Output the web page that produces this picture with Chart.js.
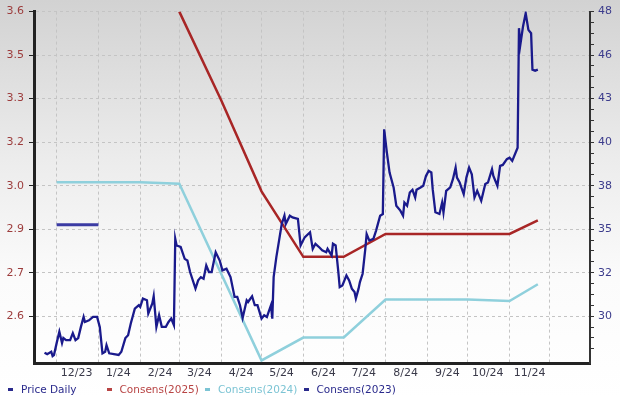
<!DOCTYPE html>
<html>
<head>
<meta charset="utf-8">
<title>Price and Consensus Chart</title>
<script src="https://cdn.jsdelivr.net/npm/chart.js@4.4.1/dist/chart.umd.min.js"></script>
<style>
  html, body { margin: 0; padding: 0; }
  body {
    width: 620px; height: 398px; overflow: hidden; position: relative;
    background: linear-gradient(to bottom, #d2d2d2 0%, #ececec 40%, #fbfbfb 70%, #ffffff 100%);
    font-family: 'DejaVu Sans', Verdana, sans-serif;
  }
  #chart { position: absolute; left: 0; top: 0; }
  #legend { position: absolute; left: 8px; top: 383px; display: flex; font-size: 10.5px; line-height: 13px; }
  #legend .item { width: 98.5px; display: flex; align-items: center; white-space: nowrap; }
  #legend .mark { width: 5px; height: 3px; margin-right: 8px; }
</style>
</head>
<body>
<canvas id="chart" width="620" height="398"></canvas>
<div id="legend"></div>
<script>
// series names (legend order)
const seriesNames = ['Price Daily', 'Consens(2025)', 'Consens(2024)', 'Consens(2023)'];

// x axis: month boundaries and the labels that sit between them
const monthStarts = ['2023-12-01', '2024-01-01', '2024-02-01', '2024-03-01', '2024-04-01', '2024-05-01',
    '2024-06-01', '2024-07-01', '2024-08-01', '2024-09-01', '2024-10-01', '2024-11-01', '2024-12-01'];
const monthLabels = ['12/23', '1/24', '2/24', '3/24', '4/24', '5/24', '6/24', '7/24', '8/24', '9/24', '10/24', '11/24'];

// y axes tick labels (evenly spaced)
const epsTickLabels = ['2.6', '2.7', '2.9', '3.0', '3.2', '3.3', '3.5', '3.6'];
const priceTickLabels = ['30', '32', '35', '38', '40', '43', '46', '48'];

// price, x = days since 2023-12-01
const priceDays = [-9, -7, -4, -3, -2, 0, 2, 4, 5, 7,
    10, 12, 14, 16, 18, 20, 21, 24, 27, 30,
    32, 34, 36, 37, 39, 46, 48, 51, 53, 55,
    58, 61, 62, 64, 67, 68, 71, 72, 74, 76,
    78, 81, 83, 85, 87, 88, 89, 92, 95, 97,
    99, 103, 105, 107, 109, 111, 113, 115, 118, 121,
    123, 126, 129, 132, 134, 136, 138, 141, 142, 145,
    147, 149, 152, 154, 156, 159, 160, 161, 163, 165,
    167, 169, 170, 173, 175, 179, 181, 184, 188, 190,
    192, 195, 197, 200, 201, 204, 205, 207, 209, 210,
    212, 215, 217, 219, 221, 222, 224, 225, 227, 229,
    230, 232, 235, 237, 240, 242, 243, 245, 247, 250,
    252, 255, 257, 258, 260, 262, 264, 266, 267, 270,
    272, 274, 276, 278, 279, 281, 284, 286, 287, 289,
    292, 294, 296, 297, 299, 302, 304, 306, 308, 310,
    312, 314, 315, 318, 320, 323, 324, 327, 329, 331,
    334, 336, 338, 341, 342, 343, 344, 346, 348, 350,
    352, 353, 355, 357];
const priceValues = [27.84, 27.76, 27.90, 27.65, 27.71, 28.41, 29.08, 28.41, 28.71, 28.59,
    28.59, 29.00, 28.59, 28.71, 29.37, 29.96, 29.66, 29.76, 29.96, 29.96,
    29.37, 27.81, 27.90, 28.29, 27.81, 27.71, 27.90, 28.71, 28.88, 29.57,
    30.45, 30.65, 30.55, 31.04, 30.94, 30.16, 30.75, 31.18, 29.37, 30.06,
    29.37, 29.37, 29.66, 29.86, 29.47, 34.57, 34.18, 34.10, 33.39, 33.29,
    32.61, 31.63, 32.12, 32.31, 32.22, 33.00, 32.61, 32.61, 33.78, 33.29,
    32.71, 32.81, 32.31, 31.14, 31.14, 30.65, 29.90, 30.94, 30.84, 31.18,
    30.65, 30.65, 29.86, 30.06, 29.96, 30.65, 29.86, 32.31, 33.49, 34.47,
    35.45, 35.94, 35.45, 35.94, 35.84, 35.75, 34.18, 34.66, 34.96, 33.98,
    34.28, 34.06, 33.90, 33.78, 33.98, 33.59, 34.28, 34.18, 32.61, 31.72,
    31.82, 32.41, 32.12, 31.63, 31.43, 31.04, 31.63, 32.02, 32.51, 33.98,
    34.86, 34.47, 34.57, 35.06, 35.94, 36.04, 41.04, 39.66, 38.49, 37.61,
    36.53, 36.24, 35.94, 36.72, 36.53, 37.31, 37.47, 37.02, 37.47, 37.61,
    37.71, 38.29, 38.59, 38.49, 37.51, 36.14, 36.04, 36.72, 36.14, 37.41,
    37.61, 38.10, 38.78, 38.19, 37.90, 37.22, 38.19, 38.78, 38.39, 37.02,
    37.41, 37.02, 36.82, 37.81, 37.90, 38.69, 38.29, 37.71, 38.88, 38.94,
    39.28, 39.37, 39.18, 39.76, 39.96, 47.02, 46.04, 47.12, 47.90, 46.92,
    46.72, 44.57, 44.51, 44.57];

// consensus EPS estimates (left axis)
const cons2025Days = [91, 122, 152, 183, 213, 244, 336, 357];
const cons2025Values = [3.60, 3.31, 3.01, 2.795, 2.795, 2.87, 2.87, 2.915];
const cons2024Days = [0, 31, 62, 91, 152, 183, 213, 244, 275, 305, 336, 357];
const cons2024Values = [3.04, 3.04, 3.04, 3.035, 2.455, 2.53, 2.53, 2.655, 2.655, 2.655, 2.65, 2.705];
const cons2023Days = [0, 31];
const cons2023Values = [2.90, 2.90];

const colors = ['#1a1a8c', '#a82626', '#8fd0dc', '#3b3ba3'];
const legendColors = ['#2a2a8c', '#b84444', '#7cc4d4', '#2a2a8c'];

function dayOf(dateStr) {
    return (Date.parse(dateStr) - Date.parse('2023-12-01')) / 864e5;
}
function toPoints(days, values) {
    return days.map((d, i) => ({ x: d, y: values[i] }));
}

const epsStep = (parseFloat(epsTickLabels[7]) - parseFloat(epsTickLabels[0])) / 7;
const priceStep = (parseFloat(priceTickLabels[7]) - parseFloat(priceTickLabels[0])) / 7;
const monthDays = monthStarts.map(dayOf);

const gridColor = '#c4c4c4';

new Chart(document.getElementById('chart'), {
    type: 'line',
    data: {
        datasets: [
            { label: seriesNames[0], yAxisID: 'y1', data: toPoints(priceDays, priceValues),
              borderColor: colors[0], borderWidth: 2.3 },
            { label: seriesNames[1], yAxisID: 'y', data: toPoints(cons2025Days, cons2025Values),
              borderColor: colors[1], borderWidth: 2.5 },
            { label: seriesNames[2], yAxisID: 'y', data: toPoints(cons2024Days, cons2024Values),
              borderColor: colors[2], borderWidth: 2.5 },
            { label: seriesNames[3], yAxisID: 'y', data: toPoints(cons2023Days, cons2023Values),
              borderColor: colors[3], borderWidth: 3 }
        ]
    },
    options: {
        responsive: false,
        animation: false,
        devicePixelRatio: 1,
        elements: { point: { radius: 0 }, line: { tension: 0, borderCapStyle: 'butt' } },
        layout: { padding: { top: 10, bottom: 15, left: 0, right: 0 } },
        plugins: { legend: { display: false }, tooltip: { enabled: false } },
        scales: {
            x: {
                type: 'linear',
                min: -16.8,
                max: 395.7,
                afterBuildTicks: (scale) => { scale.ticks = monthDays.map(v => ({ value: v })); },
                afterFit: (scale) => { scale.height = 20; },
                grid: { color: gridColor, drawTicks: false },
                border: { color: '#222', width: 3, dash: [3, 3] },
                ticks: {
                    autoSkip: false,
                    maxRotation: 0,
                    labelOffset: 20,
                    padding: 4,
                    color: '#3a3a4a',
                    font: { family: 'DejaVu Sans', size: 11 },
                    callback: (v, i) => monthLabels[i] || ''
                }
            },
            y: {
                position: 'left',
                min: 2.6 - 1.075 * epsStep,
                max: 3.6,
                afterBuildTicks: (scale) => {
                    scale.ticks = epsTickLabels.map((_, i) => ({ value: 2.6 + i * epsStep }));
                },
                afterFit: (scale) => { scale.width = 34; },
                grid: { color: gridColor, tickColor: '#222', tickLength: 5 },
                border: { color: '#222', width: 3, dash: [3, 3] },
                ticks: {
                    autoSkip: false,
                    padding: 5,
                    color: '#9c3c3c',
                    font: { family: 'DejaVu Sans', size: 11 },
                    callback: (v, i) => epsTickLabels[i]
                }
            },
            y1: {
                position: 'right',
                min: 30 - 1.075 * priceStep,
                max: 48,
                afterBuildTicks: (scale) => {
                    const ticks = [];
                    for (let k = -3; k <= 28; k++) ticks.push({ value: 30 + k * priceStep / 4 });
                    scale.ticks = ticks;
                },
                afterFit: (scale) => { scale.width = 30; },
                grid: { drawOnChartArea: false, tickColor: '#333', tickLength: 4 },
                border: { color: '#333', width: 2 },
                ticks: {
                    autoSkip: false,
                    padding: 4,
                    color: '#3c3c8c',
                    font: { family: 'DejaVu Sans', size: 11 },
                    callback: (v, i) => {
                        const k = i - 3;
                        return k % 4 === 0 ? priceTickLabels[k / 4] : '';
                    }
                }
            }
        }
    }
});

// html legend, fixed-width columns
const legend = document.getElementById('legend');
seriesNames.forEach((name, i) => {
    const item = document.createElement('div');
    item.className = 'item';
    item.style.color = legendColors[i];
    const mark = document.createElement('span');
    mark.className = 'mark';
    mark.style.background = legendColors[i];
    item.appendChild(mark);
    item.appendChild(document.createTextNode(name));
    legend.appendChild(item);
});
</script>
</body>
</html>
